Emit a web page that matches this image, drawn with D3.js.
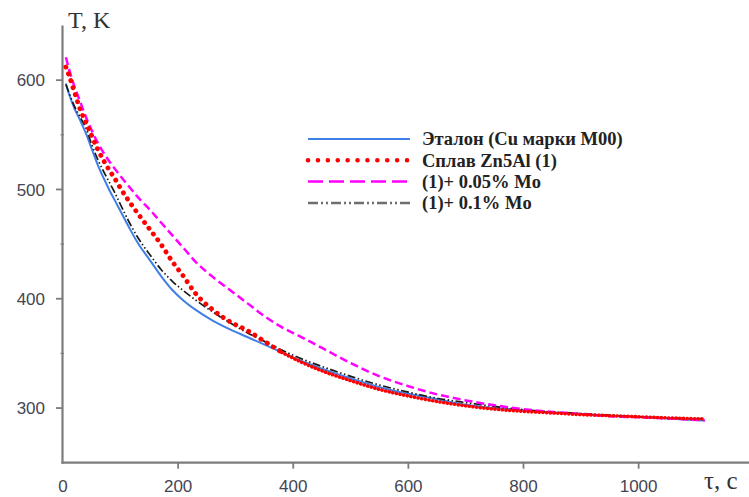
<!DOCTYPE html>
<html>
<head>
<meta charset="utf-8">
<script src="https://cdn.jsdelivr.net/npm/d3@7"></script>
<style>
  html, body { margin: 0; padding: 0; background: #fff; }
  svg { display: block; }
</style>
</head>
<body>
<svg id="chart" width="749" height="497"></svg>
<script>
// cooling curves T(τ)

const timeSec = [5, 10, 20, 30, 40, 50, 60, 70, 80, 90, 100, 115, 130, 150, 170, 190, 210, 230, 260, 290,
  320, 350, 380, 410, 450, 500, 550, 600, 650, 700, 750, 800, 850, 900, 950, 1000, 1050, 1115];

const etalonT = [597, 588, 574, 563, 551, 537, 523, 511, 500, 490, 480, 465, 451, 436, 421, 408, 398, 390, 380, 372,
  365, 358, 351, 344, 336, 327, 319, 313, 308, 303, 300, 298, 296, 294.5, 293, 292, 290.5, 288.5];

const zn5alT = [612, 605, 589, 573, 561, 549, 537, 527, 518, 510, 501, 489, 478, 464, 450, 434, 420, 405, 390, 379,
  371, 361, 351, 343, 334, 325, 317, 311, 306, 302, 299, 297, 295.5, 294, 293, 292, 291, 290];

const mo005T = [621, 611, 594, 580, 566, 554, 543, 534, 526, 519, 512, 502.5, 493, 482, 470, 458, 446, 434, 420, 408,
  396, 384, 374, 366, 355, 341, 329, 320, 312.5, 307, 302.5, 299, 296.5, 294.5, 292.5, 291.5, 290.5, 288.7];

const mo01T = [596, 589, 576, 566, 556, 541, 528, 517, 507, 497, 486, 470, 456, 441, 427, 416, 407, 399, 388, 378,
  369, 361, 353, 346, 338, 329, 321, 314.5, 309, 305, 301.5, 298.5, 296.5, 295, 293.5, 292, 291, 290];

const seriesNames = ['Эталон (Cu марки М00)', 'Сплав Zn5Al (1)', '(1)+ 0.05% Mo', '(1)+ 0.1% Mo'];
const xTicks = [0, 200, 400, 600, 800, 1000];
const yTicks = [300, 400, 500, 600];
const yMinorTicks = [350, 450, 550];

const svg = d3.select('#chart');

const x = d3.scaleLinear().domain([0, 1190]).range([63, 748]);
const y = d3.scaleLinear().domain([250, 650]).range([462.7, 25.5]);

// line styles (plot / legend)
const styles = [
  { color: '#3f7fe6', width: 2, dash: null, legendDash: null, cap: 'butt', legendColor: '#3f7fe6' },
  { color: '#ff0000', width: 4.8, dash: '0.1 7.2', legendDash: '0.1 9.8', cap: 'round', legendColor: '#ff0000' },
  { color: '#ff00ff', width: 2.5, dash: '8 4', legendDash: '15 6', cap: 'butt', legendColor: '#ff00ff' },
  { color: '#1a1a1a', width: 1.7, dash: '8 2.5 1.5 2.5 1.5 2.5', legendDash: '10 3 2 3 2 3', cap: 'butt', legendColor: '#6e6e6e' }
];
const seriesValues = [etalonT, zn5alT, mo005T, mo01T];

// axes
const axisColor = '#7c7c7c';
svg.append('line')
  .attr('x1', x(0) - 0.5).attr('x2', x(0) - 0.5)
  .attr('y1', y(650)).attr('y2', y(250) + 1)
  .attr('stroke', axisColor).attr('stroke-width', 2.2);
svg.append('line')
  .attr('x1', x(0) - 1.5).attr('x2', 749)
  .attr('y1', y(250)).attr('y2', y(250))
  .attr('stroke', axisColor).attr('stroke-width', 2.2);

const labelFont = '"Liberation Sans", Arial, sans-serif';
const labelColor = '#454552';

svg.selectAll('line.ytick')
  .data(yTicks)
  .enter().append('line')
  .attr('class', 'ytick')
  .attr('x1', x(0) - 7).attr('x2', x(0))
  .attr('y1', d => y(d)).attr('y2', d => y(d))
  .attr('stroke', axisColor).attr('stroke-width', 1.8);

svg.selectAll('line.yminor')
  .data(yMinorTicks)
  .enter().append('line')
  .attr('class', 'yminor')
  .attr('x1', x(0) - 2.5).attr('x2', x(0) + 1)
  .attr('y1', d => y(d)).attr('y2', d => y(d))
  .attr('stroke', axisColor).attr('stroke-width', 1.2);

svg.selectAll('text.ylabel')
  .data(yTicks)
  .enter().append('text')
  .attr('class', 'ylabel')
  .attr('x', 45).attr('y', d => y(d))
  .attr('dy', '0.36em')
  .attr('text-anchor', 'end')
  .attr('font-family', labelFont).attr('font-size', 17)
  .attr('fill', labelColor)
  .text(d => d);

svg.selectAll('line.xtick')
  .data(xTicks.filter(d => d > 0))
  .enter().append('line')
  .attr('class', 'xtick')
  .attr('x1', d => x(d)).attr('x2', d => x(d))
  .attr('y1', y(250)).attr('y2', y(250) + 6)
  .attr('stroke', axisColor).attr('stroke-width', 1.8);

svg.selectAll('text.xlabel')
  .data(xTicks)
  .enter().append('text')
  .attr('class', 'xlabel')
  .attr('x', d => x(d)).attr('y', 492)
  .attr('text-anchor', 'middle')
  .attr('font-family', labelFont).attr('font-size', 17)
  .attr('fill', labelColor)
  .text(d => d);

// axis titles
const serif = '"Liberation Serif", "Times New Roman", serif';
svg.append('text')
  .attr('x', 68).attr('y', 28)
  .attr('font-family', serif).attr('font-size', 24)
  .attr('fill', '#333')
  .text('T, K');
svg.append('text')
  .attr('x', 704).attr('y', 489)
  .attr('font-family', serif).attr('font-size', 25)
  .attr('fill', '#333')
  .text('τ, с');

// curves
const line = d3.line()
  .x(d => x(d[0]))
  .y(d => y(d[1]))
  .curve(d3.curveMonotoneX);

const g = svg.append('g').attr('id', 'curves');
// draw order: etalon, 0.1% Mo, 0.05% Mo, Zn5Al on top
[0, 3, 2, 1].forEach(k => {
  const s = styles[k];
  const pts = timeSec.map((t, i) => [t, seriesValues[k][i]]);
  if (k === 1) {
    // the alloy curve: clear dots on the steep part, a dense run on the flat tail
    const split = timeSec.indexOf(380);
    g.append('path')
      .datum(pts.slice(split))
      .attr('d', line)
      .attr('fill', 'none')
      .attr('stroke', s.color)
      .attr('stroke-width', 3.6)
      .attr('stroke-linecap', 'round')
      .attr('stroke-dasharray', '0.1 3.6');
    g.append('path')
      .datum(pts.slice(0, split + 1))
      .attr('d', line)
      .attr('fill', 'none')
      .attr('stroke', s.color)
      .attr('stroke-width', s.width)
      .attr('stroke-linecap', s.cap)
      .attr('stroke-dasharray', s.dash);
    return;
  }
  g.append('path')
    .datum(pts)
    .attr('d', line)
    .attr('fill', 'none')
    .attr('stroke', s.color)
    .attr('stroke-width', s.width)
    .attr('stroke-linecap', s.cap)
    .attr('stroke-dasharray', s.dash);
});

// legend
const legend = svg.append('g').attr('id', 'legend');
seriesNames.forEach((name, i) => {
  const s = styles[i];
  const ly = 139 + i * 21.3;
  legend.append('line')
    .attr('x1', 308).attr('x2', 410)
    .attr('y1', ly).attr('y2', ly)
    .attr('stroke', s.legendColor)
    .attr('stroke-width', i === 1 ? 4.5 : (i === 0 ? 2.2 : 2.5))
    .attr('stroke-linecap', s.cap)
    .attr('stroke-dasharray', s.legendDash);
  legend.append('text')
    .attr('x', 422).attr('y', ly)
    .attr('dy', '0.35em')
    .attr('font-family', serif).attr('font-size', 18.5).attr('font-weight', 'bold')
    .attr('fill', '#222')
    .text(name);
});
</script>
</body>
</html>
